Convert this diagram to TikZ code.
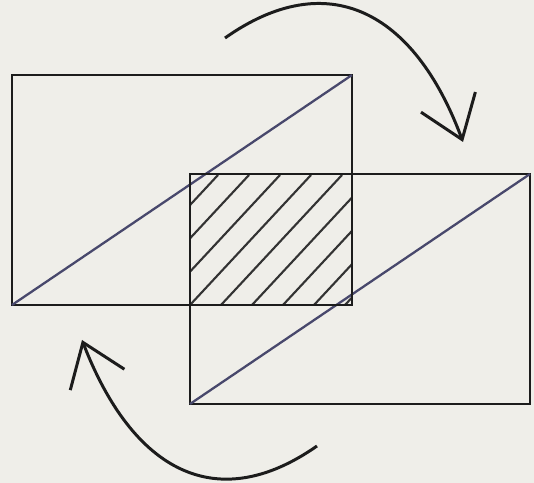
\documentclass[tikz,border=0pt]{standalone}
\usetikzlibrary{arrows.meta,calc}
\definecolor{paper}{RGB}{239,238,233}
\definecolor{diag}{RGB}{72,72,108}
\definecolor{ink}{RGB}{28,28,28}
\tikzset{
  frame/.style={draw=ink, line width=1.6pt, minimum width=6.8cm, minimum height=4.6cm, inner sep=0pt, outer sep=0pt, anchor=south west},
  diagline/.style={draw=diag, line width=1.3pt},
  hatch/.style={draw=ink!90, line width=1.2pt},
  turn/.style={draw=ink, line width=1.7pt, -{Straight Barb[length=0.8cm, width=1.16cm, line width=1.7pt]}}
}
\begin{document}
\begin{tikzpicture}[x=0.02cm, y=0.02cm]
        \fill[paper] (0,0) rectangle (534,483);
        \useasboundingbox (0,0) rectangle (534,483);
        % Frames
        \node[frame] (frameA) at (12,178) {};
        \node[frame] (frameB) at (190,79) {};
        \coordinate (overlapSW) at (frameB.west |- frameA.south);
        \coordinate (overlapNE) at (frameA.east |- frameB.north);
        % Hatching of the overlap
        \begin{scope}
            \clip (overlapSW) rectangle (overlapNE);
            \foreach \k in {-3,...,5} \draw[hatch] ($(overlapSW)+(31*\k,0)$) -- ++(121,130);
        \end{scope}
        % Diagonals
        \draw[diagline] (frameA.south west) -- (frameA.north east);
        \draw[diagline] (frameB.south west) -- (frameB.north east);
        \draw[draw=ink, line width=1.6pt] (overlapSW) rectangle (overlapNE);
        % Turning arrows
        \coordinate (turnTop) at (225,445);
        \coordinate (turnTopEnd) at (463,341);
        \coordinate (turnBottom) at (317,37);
        \coordinate (turnBottomEnd) at (82,143);
        \draw[turn] (turnTop) .. controls (327,517) and (414,473) .. (turnTopEnd);
        \draw[turn] (turnBottom) .. controls (217,-33) and (133,11) .. (turnBottomEnd);
    \end{tikzpicture}
\end{document}
